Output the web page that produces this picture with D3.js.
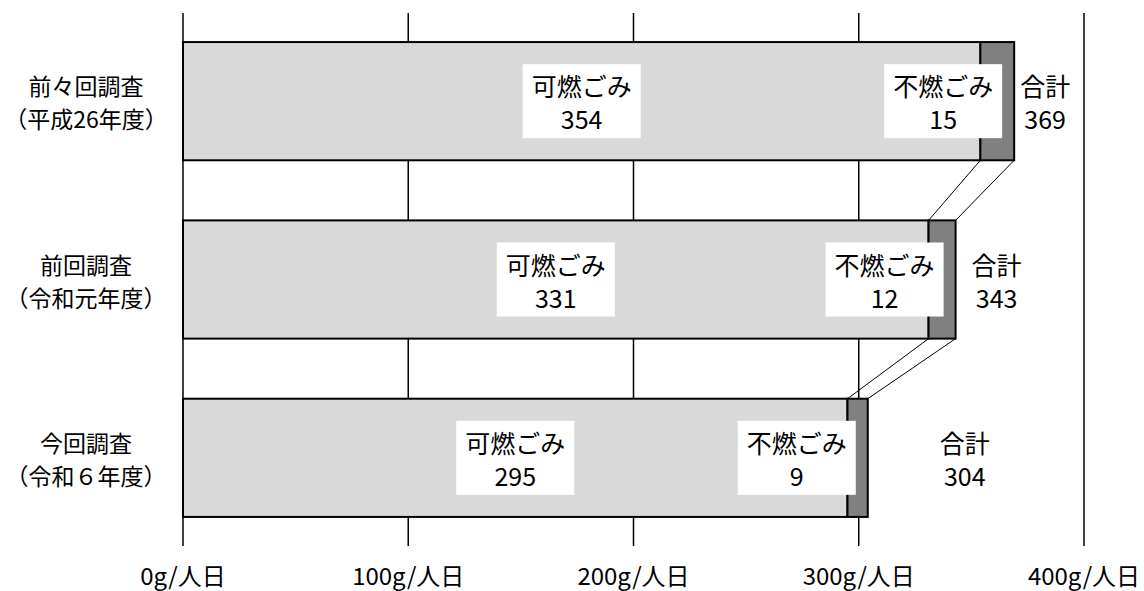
<!DOCTYPE html>
<html>
<head>
<meta charset="utf-8">
<script src="https://cdn.jsdelivr.net/npm/d3@7"></script>
<style>
  body { margin: 0; background: #fff; }
  text { font-family: "Noto Sans CJK JP", "Noto Sans", sans-serif; fill: #000; }
</style>
</head>
<body>
<div id="chart"></div>
<script>
// data
const surveys = ["前々回調査", "前回調査", "今回調査"];
const surveyYears = ["（平成26年度）", "（令和元年度）", "（令和６年度）"];
const burnable = [354, 331, 295];
const nonBurnable = [15, 12, 9];
const totals = [369, 343, 304];
const tickValues = [0, 100, 200, 300, 400];
const tickSuffix = "g/人日";

// layout
const width = 1144, height = 591;
const totalLabelGap = [31, 41, 97]; // distance of the 合計 label from bar end
const fontSize = 25;

const svg = d3.select("#chart")
    .append("svg")
    .attr("width", width)
    .attr("height", height);

const x = d3.scaleLinear()
    .domain([0, 400])
    .range([183, 1084]);

const y = d3.scaleBand()
    .domain(surveys)
    .range([13, 546])
    .paddingInner(0.337)
    .paddingOuter(0.163);

// grid lines
svg.append("g")
    .selectAll("line")
    .data(tickValues)
    .enter().append("line")
    .attr("x1", d => x(d))
    .attr("x2", d => x(d))
    .attr("y1", 13)
    .attr("y2", 546)
    .attr("stroke", "#000")
    .attr("stroke-width", 1.5);

// tick labels
svg.append("g")
    .selectAll("text")
    .data(tickValues)
    .enter().append("text")
    .attr("x", d => x(d))
    .attr("y", 574)
    .attr("text-anchor", "middle")
    .attr("dominant-baseline", "central")
    .attr("font-size", 24)
    .text(d => d + tickSuffix);

// connector lines between bars
const links = [];
for (let i = 0; i < surveys.length - 1; i++) {
    links.push({from: burnable[i], to: burnable[i + 1], i: i});
    links.push({from: totals[i], to: totals[i + 1], i: i});
}
svg.append("g")
    .selectAll("line")
    .data(links)
    .enter().append("line")
    .attr("x1", d => x(d.from))
    .attr("y1", d => y(surveys[d.i]) + y.bandwidth())
    .attr("x2", d => x(d.to))
    .attr("y2", d => y(surveys[d.i + 1]))
    .attr("stroke", "#000")
    .attr("stroke-width", 1);

// bars
const rows = surveys.map((s, i) => ({
    survey: s, year: surveyYears[i],
    burn: burnable[i], nonburn: nonBurnable[i], total: totals[i], i: i
}));

const bars = svg.append("g");
bars.selectAll(".burn")
    .data(rows)
    .enter().append("rect")
    .attr("class", "burn")
    .attr("x", x(0))
    .attr("y", d => y(d.survey))
    .attr("width", d => x(d.burn) - x(0))
    .attr("height", y.bandwidth())
    .attr("fill", "#d9d9d9")
    .attr("stroke", "#000")
    .attr("stroke-width", 2);

bars.selectAll(".nonburn")
    .data(rows)
    .enter().append("rect")
    .attr("class", "nonburn")
    .attr("x", d => x(d.burn))
    .attr("y", d => y(d.survey))
    .attr("width", d => x(d.burn + d.nonburn) - x(d.burn))
    .attr("height", y.bandwidth())
    .attr("fill", "#808080")
    .attr("stroke", "#000")
    .attr("stroke-width", 2);

// labels
const boxW = 118, boxH = 74;
function addLabel(cx, cy, line1, line2, boxed, size) {
    const g = svg.append("g");
    if (boxed) {
        g.append("rect")
            .attr("x", cx - boxW / 2)
            .attr("y", cy - boxH / 2)
            .attr("width", boxW)
            .attr("height", boxH)
            .attr("fill", "#fff");
    }
    g.append("text")
        .attr("x", cx).attr("y", cy - 16)
        .attr("text-anchor", "middle")
        .attr("dominant-baseline", "central")
        .attr("font-size", size || fontSize)
        .text(line1);
    g.append("text")
        .attr("x", cx).attr("y", cy + 17)
        .attr("text-anchor", "middle")
        .attr("dominant-baseline", "central")
        .attr("font-size", size || fontSize)
        .text(line2);
}

rows.forEach(d => {
    const cy = y(d.survey) + y.bandwidth() / 2;
    addLabel((x(0) + x(d.burn)) / 2, cy, "可燃ごみ", d.burn, true);
    addLabel(x(d.total) - 12 - boxW / 2, cy, "不燃ごみ", d.nonburn, true);
    addLabel(x(d.total) + totalLabelGap[d.i], cy, "合計", d.total, false);
    addLabel(86, cy, d.survey, d.year, false, 23);
});
</script>
</body>
</html>
